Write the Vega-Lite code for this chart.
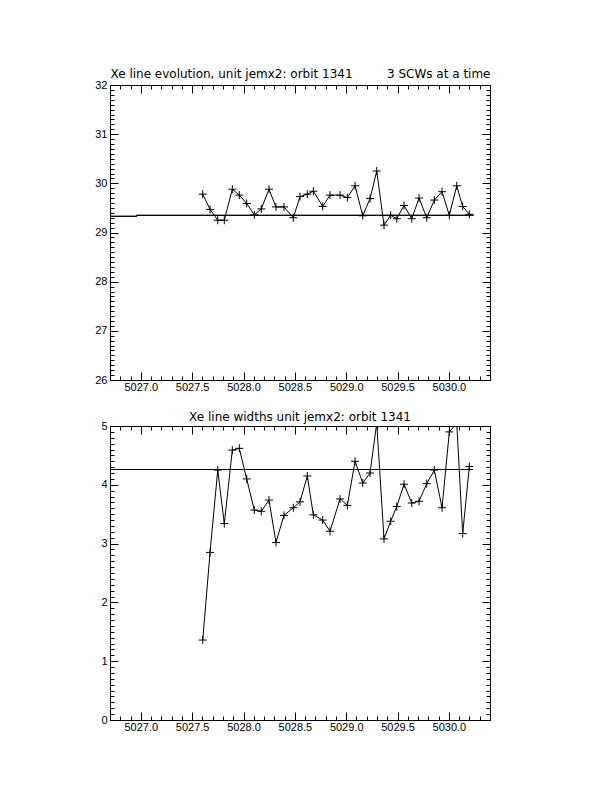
{
  "$schema": "https://vega.github.io/schema/vega-lite/v6.json",
  "background": "white",
  "padding": {"left": 94, "top": 67, "right": 0, "bottom": 0},
  "datasets": {
    "series": [
      {"t": 5027.603, "pos": 29.78, "wid": 1.36},
      {"t": 5027.674, "pos": 29.47, "wid": 2.85},
      {"t": 5027.749, "pos": 29.25, "wid": 4.25},
      {"t": 5027.813, "pos": 29.25, "wid": 3.34},
      {"t": 5027.891, "pos": 29.88, "wid": 4.59},
      {"t": 5027.959, "pos": 29.76, "wid": 4.62},
      {"t": 5028.031, "pos": 29.59, "wid": 4.10},
      {"t": 5028.105, "pos": 29.36, "wid": 3.57},
      {"t": 5028.173, "pos": 29.48, "wid": 3.55},
      {"t": 5028.248, "pos": 29.88, "wid": 3.74},
      {"t": 5028.316, "pos": 29.52, "wid": 3.02},
      {"t": 5028.394, "pos": 29.52, "wid": 3.48},
      {"t": 5028.485, "pos": 29.30, "wid": 3.61},
      {"t": 5028.550, "pos": 29.73, "wid": 3.71},
      {"t": 5028.621, "pos": 29.78, "wid": 4.15},
      {"t": 5028.680, "pos": 29.84, "wid": 3.49},
      {"t": 5028.771, "pos": 29.53, "wid": 3.40},
      {"t": 5028.842, "pos": 29.76, "wid": 3.21},
      {"t": 5028.940, "pos": 29.76, "wid": 3.76},
      {"t": 5029.011, "pos": 29.71, "wid": 3.65},
      {"t": 5029.086, "pos": 29.95, "wid": 4.40},
      {"t": 5029.161, "pos": 29.34, "wid": 4.03},
      {"t": 5029.232, "pos": 29.69, "wid": 4.20},
      {"t": 5029.297, "pos": 30.25, "wid": 5.05},
      {"t": 5029.368, "pos": 29.15, "wid": 3.08},
      {"t": 5029.433, "pos": 29.35, "wid": 3.38},
      {"t": 5029.492, "pos": 29.28, "wid": 3.63},
      {"t": 5029.563, "pos": 29.55, "wid": 4.01},
      {"t": 5029.638, "pos": 29.28, "wid": 3.69},
      {"t": 5029.709, "pos": 29.70, "wid": 3.72},
      {"t": 5029.784, "pos": 29.30, "wid": 4.02},
      {"t": 5029.858, "pos": 29.66, "wid": 4.25},
      {"t": 5029.933, "pos": 29.83, "wid": 3.61},
      {"t": 5030.004, "pos": 29.35, "wid": 4.90},
      {"t": 5030.076, "pos": 29.95, "wid": 5.05},
      {"t": 5030.134, "pos": 29.53, "wid": 3.17},
      {"t": 5030.199, "pos": 29.37, "wid": 4.31}
    ],
    "topref": [
      {"t": 5026.7, "v": 29.33},
      {"t": 5026.96, "v": 29.35},
      {"t": 5030.24, "v": 29.35}
    ],
    "botref": [
      {"t": 5026.7, "v": 4.26},
      {"t": 5030.23, "v": 4.26}
    ]
  },
  "config": {
    "view": {"stroke": "black", "strokeWidth": 1},
    "axis": {
      "grid": false, "domain": false, "tickColor": "black", "tickWidth": 1,
      "labelColor": "black", "labelFont": "Liberation Sans", "labelFontSize": 11,
      "labelFlush": false, "labelOverlap": false,
      "titleFont": "DejaVu Sans", "titleFontSize": 12, "titleFontWeight": "normal", "titleColor": "black", "titlePadding": 4
    },
    "title": {"font": "DejaVu Sans", "fontSize": 12, "fontWeight": "normal", "color": "black", "anchor": "middle", "offset": -4}
  },
  "vconcat": [
    {
      "width": 380, "height": 295,
      "layer": [
        {
          "data": {"name": "series"},
          "mark": {"type": "line", "color": "black", "strokeWidth": 1},
          "encoding": {
            "x": {"field": "t", "type": "quantitative", "scale": {"domain": [5026.7, 5030.4], "nice": false, "zero": false},
                  "axis": {"orient": "bottom", "title": null, "values": [5027, 5027.5, 5028, 5028.5, 5029, 5029.5, 5030], "format": ".1f", "tickSize": -8, "labelPadding": 9}},
            "y": {"field": "pos", "type": "quantitative", "scale": {"domain": [26, 32], "nice": false, "zero": false},
                  "axis": {"orient": "left", "title": null, "values": [26, 27, 28, 29, 30, 31, 32], "format": "d", "tickSize": -8, "labelPadding": 11}}
          }
        },
        {
          "data": {"name": "series"},
          "mark": {"type": "point", "shape": "M-1,0L1,0M0,-1L0,1", "size": 64, "filled": false, "color": "black", "strokeWidth": 1, "opacity": 1},
          "encoding": {
            "x": {"field": "t", "type": "quantitative",
                  "axis": {"orient": "bottom", "title": null, "labels": false, "tickSize": -4,
                           "values": [5026.7,5026.8,5026.9,5027.0,5027.1,5027.2,5027.3,5027.4,5027.5,5027.6,5027.7,5027.8,5027.9,5028.0,5028.1,5028.2,5028.3,5028.4,5028.5,5028.6,5028.7,5028.8,5028.9,5029.0,5029.1,5029.2,5029.3,5029.4,5029.5,5029.6,5029.7,5029.8,5029.9,5030.0,5030.1,5030.2,5030.3,5030.4]}},
            "y": {"field": "pos", "type": "quantitative",
                  "axis": {"orient": "left", "title": null, "labels": false, "tickSize": -4,
                           "values": [26.0,26.1,26.2,26.3,26.4,26.5,26.6,26.7,26.8,26.9,27.0,27.1,27.2,27.3,27.4,27.5,27.6,27.7,27.8,27.9,28.0,28.1,28.2,28.3,28.4,28.5,28.6,28.7,28.8,28.9,29.0,29.1,29.2,29.3,29.4,29.5,29.6,29.7,29.8,29.9,30.0,30.1,30.2,30.3,30.4,30.5,30.6,30.7,30.8,30.9,31.0,31.1,31.2,31.3,31.4,31.5,31.6,31.7,31.8,31.9,32.0]}}
          }
        },
        {
          "data": {"name": "topref"},
          "mark": {"type": "line", "interpolate": "step-after", "color": "black", "strokeWidth": 1},
          "encoding": {
            "x": {"field": "t", "type": "quantitative",
                  "axis": {"orient": "top", "title": "Xe line evolution, unit jemx2: orbit 1341", "titleAnchor": "start", "labels": false, "tickSize": -8, "values": [5027, 5027.5, 5028, 5028.5, 5029, 5029.5, 5030]}},
            "y": {"field": "v", "type": "quantitative",
                  "axis": {"orient": "right", "title": null, "labels": false, "tickSize": -8, "values": [26, 27, 28, 29, 30, 31, 32]}}
          }
        },
        {
          "data": {"name": "topref"},
          "mark": {"type": "line", "interpolate": "step-after", "color": "black", "strokeWidth": 1},
          "encoding": {
            "x": {"field": "t", "type": "quantitative",
                  "axis": {"orient": "top", "title": "3 SCWs at a time", "titleAnchor": "end", "labels": false, "tickSize": -4,
                           "values": [5026.7,5026.8,5026.9,5027.0,5027.1,5027.2,5027.3,5027.4,5027.5,5027.6,5027.7,5027.8,5027.9,5028.0,5028.1,5028.2,5028.3,5028.4,5028.5,5028.6,5028.7,5028.8,5028.9,5029.0,5029.1,5029.2,5029.3,5029.4,5029.5,5029.6,5029.7,5029.8,5029.9,5030.0,5030.1,5030.2,5030.3,5030.4]}},
            "y": {"field": "v", "type": "quantitative",
                  "axis": {"orient": "right", "title": null, "labels": false, "tickSize": -4,
                           "values": [26.0,26.1,26.2,26.3,26.4,26.5,26.6,26.7,26.8,26.9,27.0,27.1,27.2,27.3,27.4,27.5,27.6,27.7,27.8,27.9,28.0,28.1,28.2,28.3,28.4,28.5,28.6,28.7,28.8,28.9,29.0,29.1,29.2,29.3,29.4,29.5,29.6,29.7,29.8,29.9,30.0,30.1,30.2,30.3,30.4,30.5,30.6,30.7,30.8,30.9,31.0,31.1,31.2,31.3,31.4,31.5,31.6,31.7,31.8,31.9,32.0]}}
          }
        }
      ],
      "resolve": {"axis": {"x": "independent", "y": "independent"}}
    },
    {
      "width": 380, "height": 294,
      "title": "Xe line widths unit jemx2: orbit 1341",
      "layer": [
        {
          "data": {"name": "series"},
          "mark": {"type": "line", "color": "black", "strokeWidth": 1, "clip": true},
          "encoding": {
            "x": {"field": "t", "type": "quantitative", "scale": {"domain": [5026.7, 5030.4], "nice": false, "zero": false},
                  "axis": {"orient": "bottom", "title": null, "values": [5027, 5027.5, 5028, 5028.5, 5029, 5029.5, 5030], "format": ".1f", "tickSize": -8, "labelPadding": 9}},
            "y": {"field": "wid", "type": "quantitative", "scale": {"domain": [0, 5], "nice": false, "zero": false},
                  "axis": {"orient": "left", "title": null, "values": [0, 1, 2, 3, 4, 5], "format": "d", "tickSize": -8, "labelPadding": 11}}
          }
        },
        {
          "data": {"name": "series"},
          "mark": {"type": "point", "shape": "M-1,0L1,0M0,-1L0,1", "size": 64, "filled": false, "color": "black", "strokeWidth": 1, "opacity": 1, "clip": true},
          "encoding": {
            "x": {"field": "t", "type": "quantitative",
                  "axis": {"orient": "bottom", "title": null, "labels": false, "tickSize": -4,
                           "values": [5026.7,5026.8,5026.9,5027.0,5027.1,5027.2,5027.3,5027.4,5027.5,5027.6,5027.7,5027.8,5027.9,5028.0,5028.1,5028.2,5028.3,5028.4,5028.5,5028.6,5028.7,5028.8,5028.9,5029.0,5029.1,5029.2,5029.3,5029.4,5029.5,5029.6,5029.7,5029.8,5029.9,5030.0,5030.1,5030.2,5030.3,5030.4]}},
            "y": {"field": "wid", "type": "quantitative",
                  "axis": {"orient": "left", "title": null, "labels": false, "tickSize": -4,
                           "values": [0.0,0.1,0.2,0.3,0.4,0.5,0.6,0.7,0.8,0.9,1.0,1.1,1.2,1.3,1.4,1.5,1.6,1.7,1.8,1.9,2.0,2.1,2.2,2.3,2.4,2.5,2.6,2.7,2.8,2.9,3.0,3.1,3.2,3.3,3.4,3.5,3.6,3.7,3.8,3.9,4.0,4.1,4.2,4.3,4.4,4.5,4.6,4.7,4.8,4.9,5.0]}}
          }
        },
        {
          "data": {"name": "botref"},
          "mark": {"type": "line", "color": "black", "strokeWidth": 1},
          "encoding": {
            "x": {"field": "t", "type": "quantitative",
                  "axis": {"orient": "top", "title": null, "labels": false, "tickSize": -8, "values": [5027, 5027.5, 5028, 5028.5, 5029, 5029.5, 5030]}},
            "y": {"field": "v", "type": "quantitative",
                  "axis": {"orient": "right", "title": null, "labels": false, "tickSize": -8, "values": [0, 1, 2, 3, 4, 5]}}
          }
        },
        {
          "data": {"name": "botref"},
          "mark": {"type": "line", "color": "black", "strokeWidth": 1},
          "encoding": {
            "x": {"field": "t", "type": "quantitative",
                  "axis": {"orient": "top", "title": null, "labels": false, "tickSize": -4,
                           "values": [5026.7,5026.8,5026.9,5027.0,5027.1,5027.2,5027.3,5027.4,5027.5,5027.6,5027.7,5027.8,5027.9,5028.0,5028.1,5028.2,5028.3,5028.4,5028.5,5028.6,5028.7,5028.8,5028.9,5029.0,5029.1,5029.2,5029.3,5029.4,5029.5,5029.6,5029.7,5029.8,5029.9,5030.0,5030.1,5030.2,5030.3,5030.4]}},
            "y": {"field": "v", "type": "quantitative",
                  "axis": {"orient": "right", "title": null, "labels": false, "tickSize": -4,
                           "values": [0.0,0.1,0.2,0.3,0.4,0.5,0.6,0.7,0.8,0.9,1.0,1.1,1.2,1.3,1.4,1.5,1.6,1.7,1.8,1.9,2.0,2.1,2.2,2.3,2.4,2.5,2.6,2.7,2.8,2.9,3.0,3.1,3.2,3.3,3.4,3.5,3.6,3.7,3.8,3.9,4.0,4.1,4.2,4.3,4.4,4.5,4.6,4.7,4.8,4.9,5.0]}}
          }
        }
      ],
      "resolve": {"axis": {"x": "independent", "y": "independent"}}
    }
  ],
  "bounds": "flush",
  "spacing": 46
}
